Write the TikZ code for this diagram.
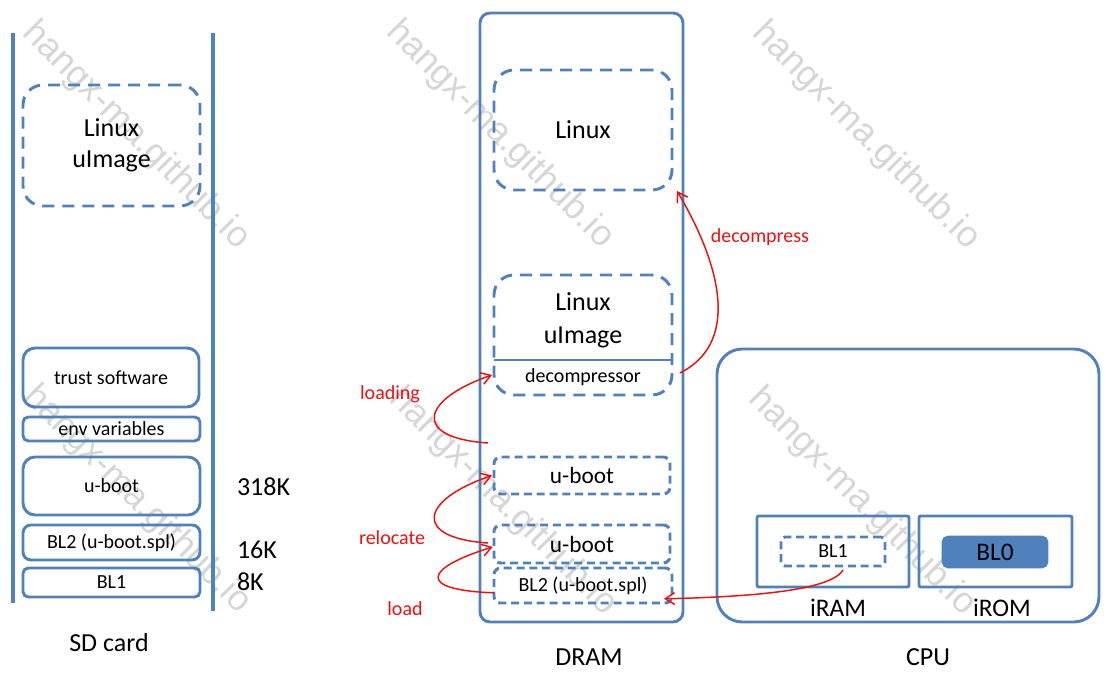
\documentclass[tikz,border=0pt]{standalone}
\usepackage{fontspec}
\setmainfont{Carlito}
\newfontfamily\wmfont{Liberation Sans}
\usetikzlibrary{arrows.meta,calc}
\definecolor{obl}{RGB}{79,129,189}
\definecolor{ared}{RGB}{236,16,16}
\definecolor{wmgray}{RGB}{214,214,214}
\newcommand{\szS}{\fontsize{15}{18}\selectfont}
\newcommand{\szM}{\fontsize{17.5}{21}\selectfont}
\newcommand{\szL}{\fontsize{19.5}{24}\selectfont}
\begin{document}
\begin{tikzpicture}[x=0.75pt,y=-0.75pt,
  wh/.style 2 args={minimum width=#1*0.75pt,minimum height=#2*0.75pt},
  boxbase/.style={draw=obl,line width=2.2pt,inner sep=0pt,outer sep=0pt,align=center,text=black},
  solidbox/.style={boxbase,font=\szS},
  bigdash/.style={boxbase,dash pattern=on 9pt off 6pt,rounded corners=15pt,font=\szL},
  smalldash/.style={boxbase,dash pattern=on 6pt off 3.6pt},
  txt/.style={inner sep=0pt,outer sep=0pt,align=center,text=black},
  redlbl/.style={inner sep=0pt,text=ared,font=\szS},
  redarr/.style={draw=ared,line width=1.1pt,-{Straight Barb[length=7pt,width=9pt]}},
  vline/.style={draw=obl,line width=2.4pt},
  wm/.style={inner sep=0pt,text=wmgray,font=\wmfont\fontsize{27}{30}\selectfont,rotate=-45}
]
\useasboundingbox (0,0) rectangle (1115,680);

% ---------------- watermarks (behind) ----------------
\node[wm] (wm1) at (136,136) {hangx-ma.github.io};
\node[wm] (wm2) at (500,135) {hangx-ma.github.io};
\node[wm] (wm3) at (866,136) {hangx-ma.github.io};
\node[wm] (wm4) at (137,500) {hangx-ma.github.io};
\node[wm] (wm5) at (503,502) {hangx-ma.github.io};
\node[wm] (wm6) at (862,502) {hangx-ma.github.io};

% ---------------- SD card ----------------
\coordinate (sdl1) at (13,33);
\coordinate (sdl2) at (13,603);
\coordinate (sdr1) at (213,33);
\coordinate (sdr2) at (213,611);
\draw[vline] (sdl1) -- (sdl2);
\draw[vline] (sdr1) -- (sdr2);

\node[bigdash,wh={177}{121},font=\fontsize{19.5}{23.25}\selectfont] (sdlinux) at (111.5,145.5) {Linux\\uImage};
\node[solidbox,wh={176}{59},rounded corners=9pt] (trust) at (111,377.5) {trust software};
\node[solidbox,wh={177}{24},rounded corners=4pt] (env) at (111.5,429) {env variables};
\node[solidbox,wh={177}{58},rounded corners=9pt] (sduboot) at (111.5,486) {u-boot};
\node[solidbox,wh={177}{35},rounded corners=6pt] (sdbl2) at (111.5,542.5) {BL2 (u-boot.spl)};
\node[solidbox,wh={177}{29},rounded corners=4pt] (sdbl1) at (111.5,582.5) {BL1};

\node[txt,anchor=west,font=\szL] (k318) at (237,487) {318K};
\node[txt,anchor=west,font=\szL] (k16) at (237,550) {16K};
\node[txt,anchor=west,font=\szL] (k8) at (237,582) {8K};
\node[txt,font=\szL] (sdlbl) at (109,643) {SD card};

% ---------------- DRAM ----------------
\node[boxbase,wh={203}{609},rounded corners=7.5pt] (dram) at (581.5,317.5) {};
\node[bigdash,wh={178}{120}] (linux) at (583,130) {Linux};
\node[bigdash,wh={178}{120}] (uimage) at (583,335) {};
\node[txt,font=\fontsize{19.5}{24.75}\selectfont] (uimtxt) at (583,320) {Linux\\uImage};
\draw[obl,line width=1pt] ($(uimage.south west)+(0,-35)$) -- ($(uimage.south east)+(0,-35)$);
\node[txt,wh={178}{35},font=\szS] (decomp) at (583,377.5) {decompressor};
\node[smalldash,wh={176}{37},rounded corners=5pt,font=\szM] (uboot2) at (582,475.5) {u-boot};
\node[smalldash,wh={176}{38},rounded corners=5pt,font=\szM] (uboot1) at (582,544) {u-boot};
\node[smalldash,wh={178}{35},rounded corners=5pt,font=\szS] (dbl2) at (583,585.5) {BL2 (u-boot.spl)};
\node[txt,font=\szL] (dramlbl) at (589,657) {DRAM};

% ---------------- CPU ----------------
\node[boxbase,wh={382}{273},rounded corners=19pt] (cpu) at (908,485.5) {};
\node[boxbase,wh={152}{71},rounded corners=1.5pt] (iram) at (833,551.5) {};
\node[boxbase,wh={153}{71},rounded corners=1.5pt] (irom) at (995.5,551.5) {};
\node[smalldash,wh={104}{29},rounded corners=3pt,font=\szS] (bl1) at (833,551.5) {BL1};
\node[boxbase,fill=obl,wh={104}{30},rounded corners=4pt,font=\fontsize{19}{22}\selectfont] (bl0) at (995,552) {BL0};
\node[txt,font=\fontsize{19}{22}\selectfont] (iramlbl) at (838,608) {iRAM};
\node[txt,font=\fontsize{19}{22}\selectfont] (iromlbl) at (1002,608) {iROM};
\node[txt,font=\szL] (cpulbl) at (928,657) {CPU};

% ---------------- red arrows ----------------
\draw[redarr] ([yshift=-5.5pt]dbl2.west) .. controls (415,590) and (425,568) .. ([xshift=-1pt,yshift=-2.2pt]uboot1.west);
\draw[redarr] ([xshift=-4.5pt,yshift=0.75pt]uboot1.west) .. controls (412,538) and (420,500) .. ([xshift=-1.5pt]uboot2.west);
\coordinate (ldstart) at (488,443);
\draw[redarr] (ldstart) .. controls (412,438) and (420,400) .. ([xshift=-1.5pt,yshift=1.9pt]decomp.west);
\draw[redarr] ([xshift=6pt,yshift=3.4pt]decomp.east) .. controls (745,340) and (715,255) .. ([xshift=3.75pt,yshift=-0.75pt]linux.south east);
\draw[redarr] ([xshift=7.5pt,yshift=-3pt]bl1.south) .. controls (830,592) and (740,597) .. ([xshift=-6pt,yshift=-10pt]dbl2.east);

\node[redlbl] (lloading) at (390,394) {loading};
\node[redlbl] (lrelocate) at (392,538) {relocate};
\node[redlbl] (lload) at (405,609) {load};
\node[redlbl] (ldecomp) at (760,237) {decompress};
\end{tikzpicture}
\end{document}
